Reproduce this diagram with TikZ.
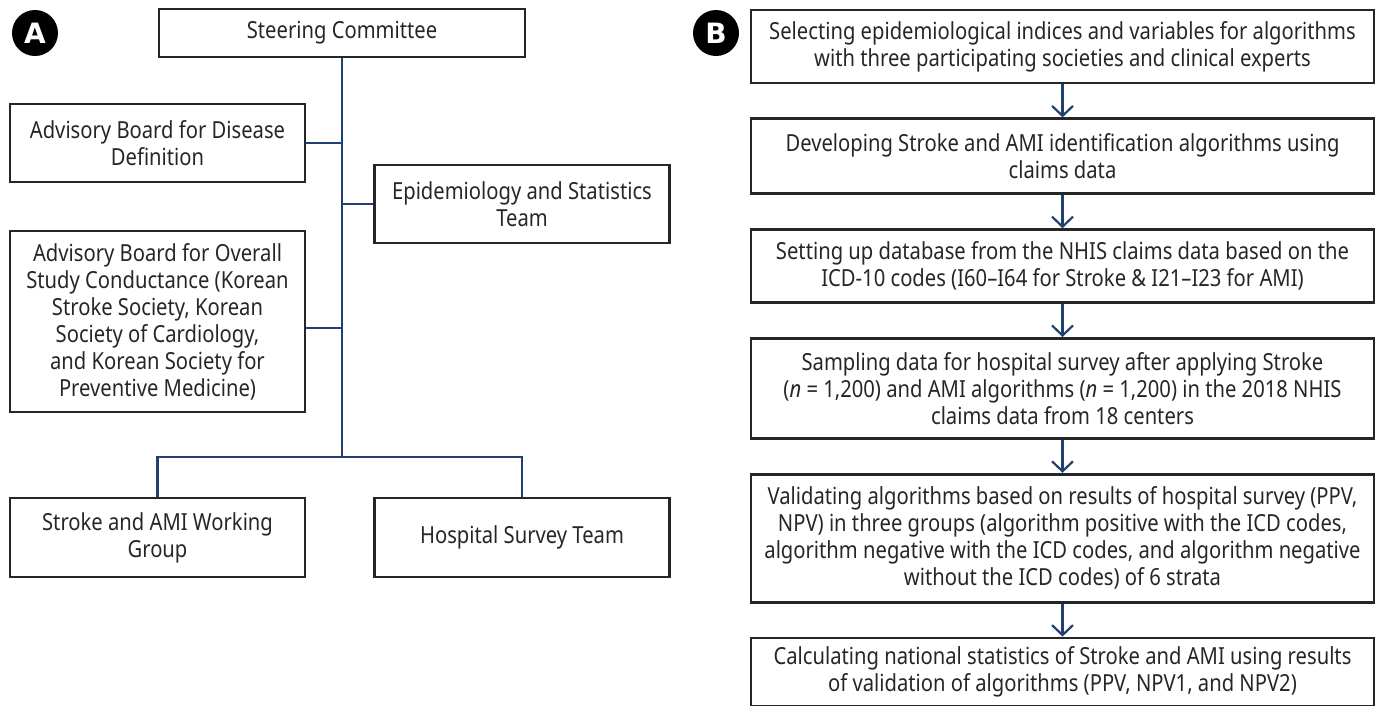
\documentclass[tikz,border=0pt]{standalone}
\usepackage{fontspec}
\setmainfont[FakeStretch=0.86]{Noto Sans}
\newfontfamily\badgefont{DejaVu Sans}
\usepackage{tikz}
\usetikzlibrary{arrows.meta,positioning}
\definecolor{inkgray}{HTML}{262626}
\definecolor{navy}{HTML}{20406F}

\begin{document}
\begin{tikzpicture}[
  x=1pt,y=1pt,
  node distance=33pt,
  every node/.style={font=\fontsize{23.5}{27}\selectfont,align=center,text=inkgray},
  box/.style={draw=inkgray,line width=2.8pt,inner sep=0pt,minimum width=295pt},
  wide/.style={box,minimum width=623pt},
  badge/.style={circle,fill=black,minimum size=46pt,inner sep=0pt,text=white,font=\badgefont\bfseries\fontsize{28}{28}\selectfont},
  link/.style={navy,line width=2.2pt},
  arr/.style={-{Straight Barb[length=10pt,width=21pt]},navy,line width=2.2pt}
]
\useasboundingbox (0,0) rectangle (1376,-705);

% A: organisation chart
\node[badge] (labA) at (35,-33) {A};
\node[box,minimum width=366pt,minimum height=48pt] (steer) at (342,-33) {Steering Committee};
\node[box,minimum height=78pt] (disease) at (157.5,-143) {Advisory Board for Disease\\Definition};
\node[box,minimum height=78pt] (epi) at (522,-204) {Epidemiology and Statistics\\Team};
\node[box,minimum height=181pt] (overall) at (157.5,-321.5) {Advisory Board for Overall\\Study Conductance (Korean\\Stroke Society, Korean\\Society of Cardiology,\\and Korean Society for\\Preventive Medicine)};
\node[box,minimum height=79pt] (working) at (157.5,-537.5) {Stroke and AMI Working\\Group};
\node[box,minimum height=79pt] (hospital) at (522,-537.5) {Hospital Survey Team};
\coordinate (fork) at (342,-457);
\draw[link] (steer.south) -- (fork);
\draw[link] (disease.east) -- (disease.east -| fork);
\draw[link] (epi.west) -- (epi.west -| fork);
\draw[link] ([yshift=-6.5pt]overall.east) -- ([yshift=-6.5pt]overall.east -| fork);
\draw[link] (working.north) |- (fork) -| (hospital.north);

% B: study steps
\node[badge] (labB) at (716,-33) {B};
\node[wide,minimum height=73pt] (select) at (1062.5,-46.5) {Selecting epidemiological indices and variables for algorithms\\with three participating societies and clinical experts};
\node[wide,minimum height=75pt,below=of select] (develop) {Developing Stroke and AMI identification algorithms using\\claims data};
\node[wide,minimum height=73pt,below=of develop] (database) {Setting up database from the NHIS claims data based on the\\ICD-10 codes (I60–I64 for Stroke \& I21–I23 for AMI)};
\node[wide,minimum height=100pt,below=of database] (sampling) {Sampling data for hospital survey after applying Stroke\\(\textit{n} = 1,200) and AMI algorithms (\textit{n} = 1,200) in the 2018 NHIS\\claims data from 18 centers};
\node[wide,minimum height=128pt,below=of sampling] (validate) {Validating algorithms based on results of hospital survey (PPV,\\NPV) in three groups (algorithm positive with the ICD codes,\\algorithm negative with the ICD codes, and algorithm negative\\without the ICD codes) of 6 strata};
\node[wide,minimum height=68pt,below=of validate] (calc) {Calculating national statistics of Stroke and AMI using results\\of validation of algorithms (PPV, NPV1, and NPV2)};
\draw[arr] (select) -- (develop);
\draw[arr] (develop) -- (database);
\draw[arr] (database) -- (sampling);
\draw[arr] (sampling) -- (validate);
\draw[arr] (validate) -- (calc);
\end{tikzpicture}
\end{document}
